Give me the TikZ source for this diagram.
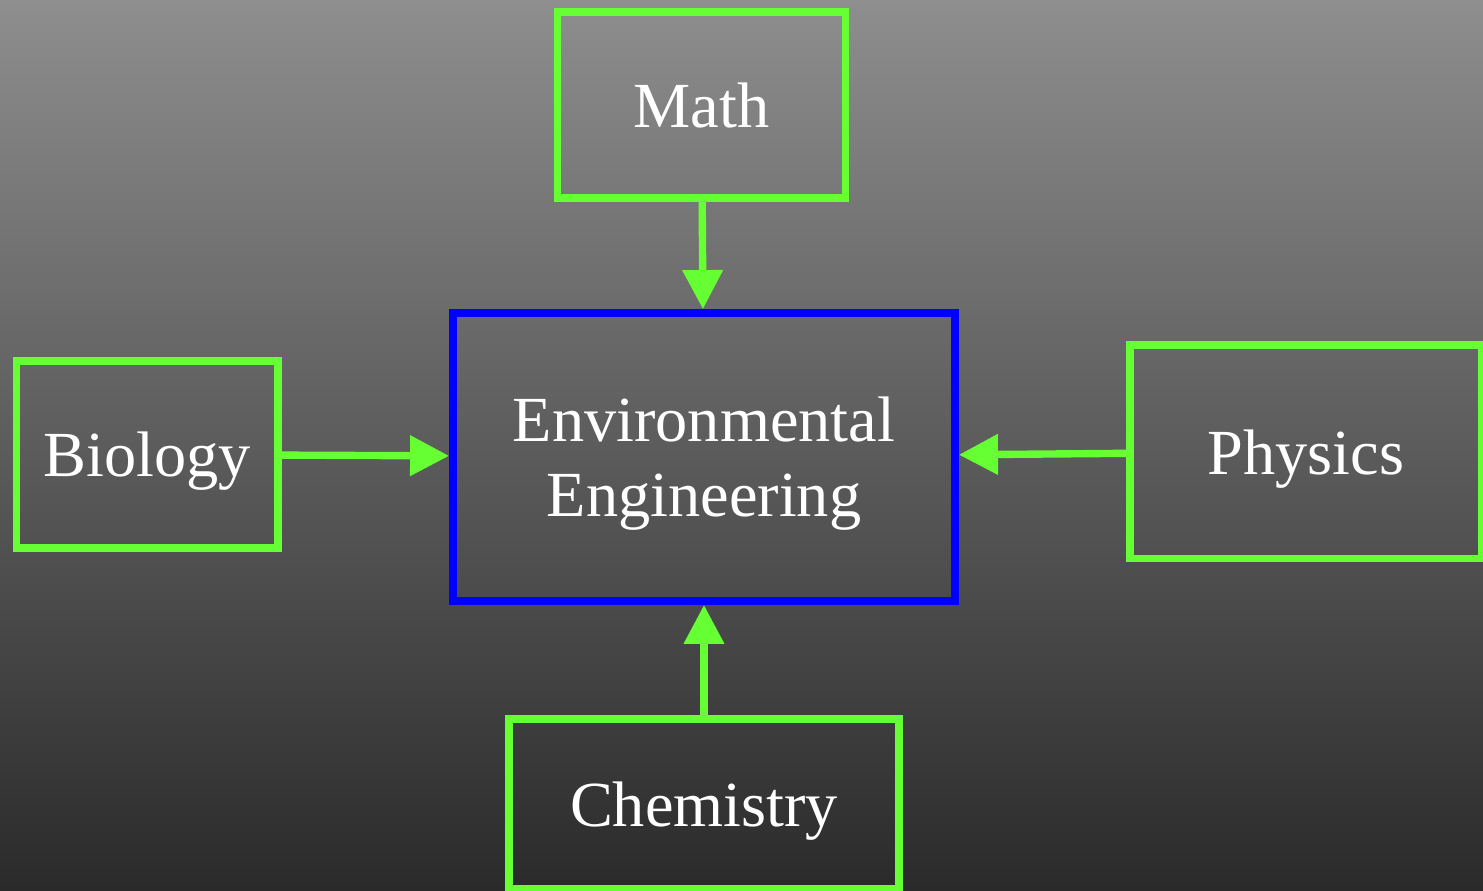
\documentclass[tikz,border=0pt]{standalone}
\usepackage{fontspec}
\setmainfont{Liberation Serif}
\usetikzlibrary{arrows.meta}

\definecolor{boxgreen}{HTML}{66FF33}
\definecolor{bgtop}{HTML}{8E8E8E}
\definecolor{bgbottom}{HTML}{2A2A2A}

\tikzset{
  field/.style={draw=boxgreen,line width=4.5pt,text=white,align=center,
    font=\fontsize{36.6}{42.5}\selectfont,inner sep=0pt,text depth=0pt},
  core/.style={field,draw=blue},
  feed/.style={boxgreen,line width=4.2pt,-{Triangle[length=0.78cm,width=0.78cm]}}
}

\begin{document}
\begin{tikzpicture}
  \shade[top color=bgtop,bottom color=bgbottom] (0,0) rectangle (29.66,-17.8);
  \useasboundingbox (0,0) rectangle (29.66,-17.8);

  \node[core,minimum width=10.04cm,minimum height=5.76cm] (env) at (14.08,-9.14)
    {Environmental\\Engineering};
  \node[field,minimum width=5.76cm,minimum height=3.72cm] (math) at (14.03,-2.10) {Math};
  \node[field,minimum width=5.23cm,minimum height=3.74cm] (bio) at (2.945,-9.09) {Biology};
  \node[field,minimum width=7.04cm,minimum height=4.27cm] (phys) at (26.12,-9.035) {Physics};
  \node[field,minimum width=7.80cm,minimum height=3.40cm] (chem) at (14.08,-16.08) {Chemistry};

  \draw[feed] (math) -- (env);
  \draw[feed] (bio) -- (env);
  \draw[feed] (phys) -- (env);
  \draw[feed] (chem) -- (env);
\end{tikzpicture}
\end{document}
